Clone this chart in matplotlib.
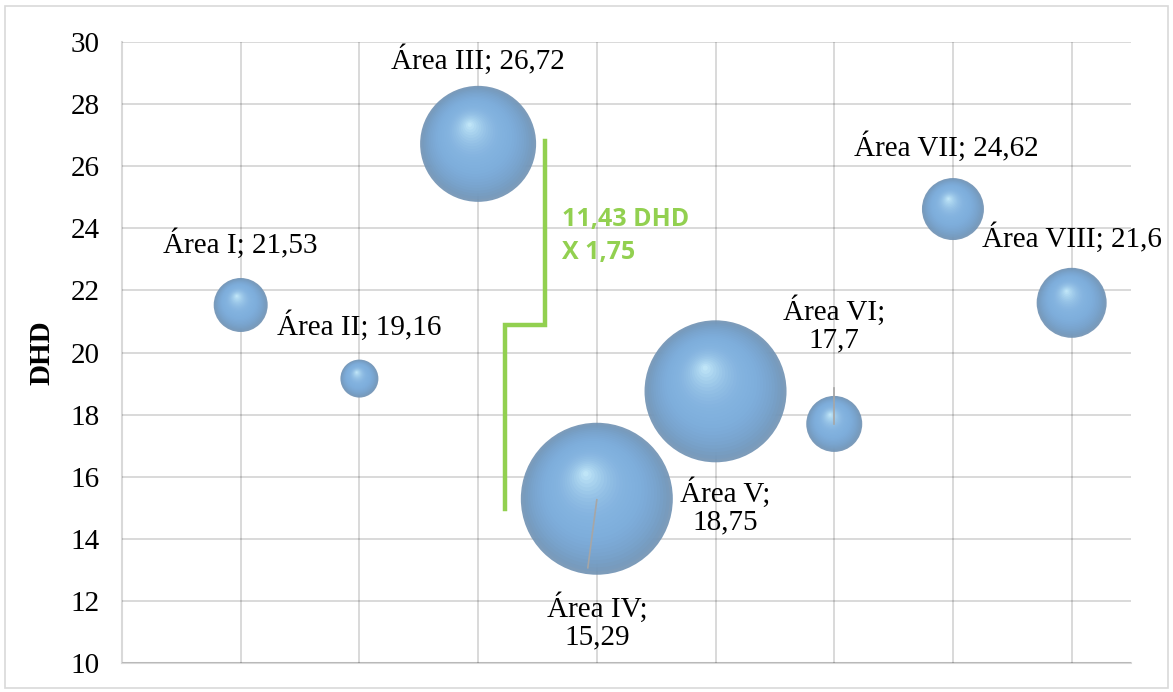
import numpy as np
import matplotlib.pyplot as plt
import matplotlib.transforms as mtransforms
from matplotlib.colors import to_rgb
from matplotlib.patches import Rectangle

# data
areas = ['Área I', 'Área II', 'Área III', 'Área IV',
         'Área V', 'Área VI', 'Área VII', 'Área VIII']
xpos = [1, 2, 3, 4, 5, 6, 7, 8]
dhd = [21.53, 19.16, 26.72, 15.29, 18.75, 17.7, 24.62, 21.6]
bubble = [729, 361, 3364, 5776, 5041, 784, 961, 1225]   # relative bubble size
yticks = [10, 12, 14, 16, 18, 20, 22, 24, 26, 28, 30]

# bracket annotation (x, y in data units)
bracket_x = [3.567, 3.567, 3.229, 3.229]
bracket_y = [26.8, 20.9, 20.9, 14.95]
bracket_text = '11,43 DHD\nX 1,75'

# label placement (offset pixels from bubble centre) and line break
lab_off = [(0, 61), (0, 53), (0, 84), (0, -123), (10, -115), (0, 100), (-7, 62), (0, 65)]
lab_wrap = [False, False, False, True, True, True, False, False]

serif = ['Liberation Serif', 'DejaVu Serif']
GREEN = '#92d050'
FS = 21

fig = plt.figure(figsize=(11.73, 6.92), dpi=100)
fig.patches.append(Rectangle((0.004, 0.006), 0.992, 0.985, transform=fig.transFigure,
                             fill=False, edgecolor='#d9d9d9', linewidth=1.2))
ax = fig.add_axes([0.104, 0.0419, 0.8602, 0.8974])

ax.set_xlim(0, 8.5)
ax.set_ylim(10, 30)
ax.set_xticks(xpos)
ax.set_xticklabels([])
ax.set_yticks(yticks)
ax.set_yticklabels([str(t) for t in yticks], fontfamily=serif, fontsize=FS)
ax.tick_params(length=0, pad=16)
for s in ['top', 'right']:
    ax.spines[s].set_visible(False)
for s in ['left', 'bottom']:
    ax.spines[s].set_color('#d9d9d9')
    ax.spines[s].set_linewidth(1.5)
ax.grid(True, color='black', alpha=0.15, linewidth=1.4, zorder=5)
ax.set_axisbelow(False)
ax.set_ylabel('DHD', fontfamily=serif, fontsize=FS, fontweight='bold', labelpad=11)

# sphere-like bubbles: stacked circles, highlight up-left
edge_c = np.array(to_rgb('#6f91b3'))
mid_c = np.array(to_rgb('#80b0de'))
hi_c = np.array(to_rgb('#d2f5ff'))
nlay = 28
for x, y, b in zip(xpos, dhd, bubble):
    r_pt = 0.72 * np.sqrt(b)          # radius in points
    for k in range(nlay):
        f = 1 - k / nlay              # radius fraction
        t = 1 - f
        if t < 0.35:
            c = edge_c + (mid_c - edge_c) * (t / 0.35) ** 0.5
        else:
            c = mid_c + (hi_c - mid_c) * ((t - 0.35) / 0.65) ** 2.2
        dx = -0.15 * r_pt * t
        dy = 0.34 * r_pt * t
        tr = mtransforms.offset_copy(ax.transData, fig=fig, x=dx, y=dy, units='points')
        ax.scatter([x], [y], s=(2 * r_pt * f) ** 2, color=c, alpha=0.9 if k == 0 else 0.5,
                   edgecolors='none', transform=tr, zorder=3)

# data labels
for i, (x, y) in enumerate(zip(xpos, dhd)):
    val = f'{y:g}'.replace('.', ',')
    txt = f'{areas[i]};\n{val}' if lab_wrap[i] else f'{areas[i]}; {val}'
    ax.annotate(txt, (x, y), xytext=lab_off[i], textcoords='offset pixels',
                ha='center', va='center', fontfamily=serif, fontsize=FS,
                linespacing=1.07, zorder=6)

# leader lines for Área IV and Área VI
for i, (p0, p1) in {3: ((0, -1), (-9, -69)), 5: ((0, 36), (0, 0))}.items():
    disp = ax.transData.transform((xpos[i], dhd[i]))
    pts = np.array([disp + np.array(p0), disp + np.array(p1)])
    ax.plot(pts[:, 0], pts[:, 1], color='#a6a6a6', lw=1.2, transform=None, zorder=6)

# green bracket
ax.plot(bracket_x, bracket_y, color=GREEN, lw=3.2, solid_joinstyle='miter', zorder=4)
ax.text(3.71, 23.75, bracket_text, color=GREEN, fontsize=18, fontweight='bold',
        fontfamily=['Open Sans', 'DejaVu Sans'], va='center', ha='left', linespacing=1.42,
        zorder=6)

fig.savefig('out.png', dpi=100)
